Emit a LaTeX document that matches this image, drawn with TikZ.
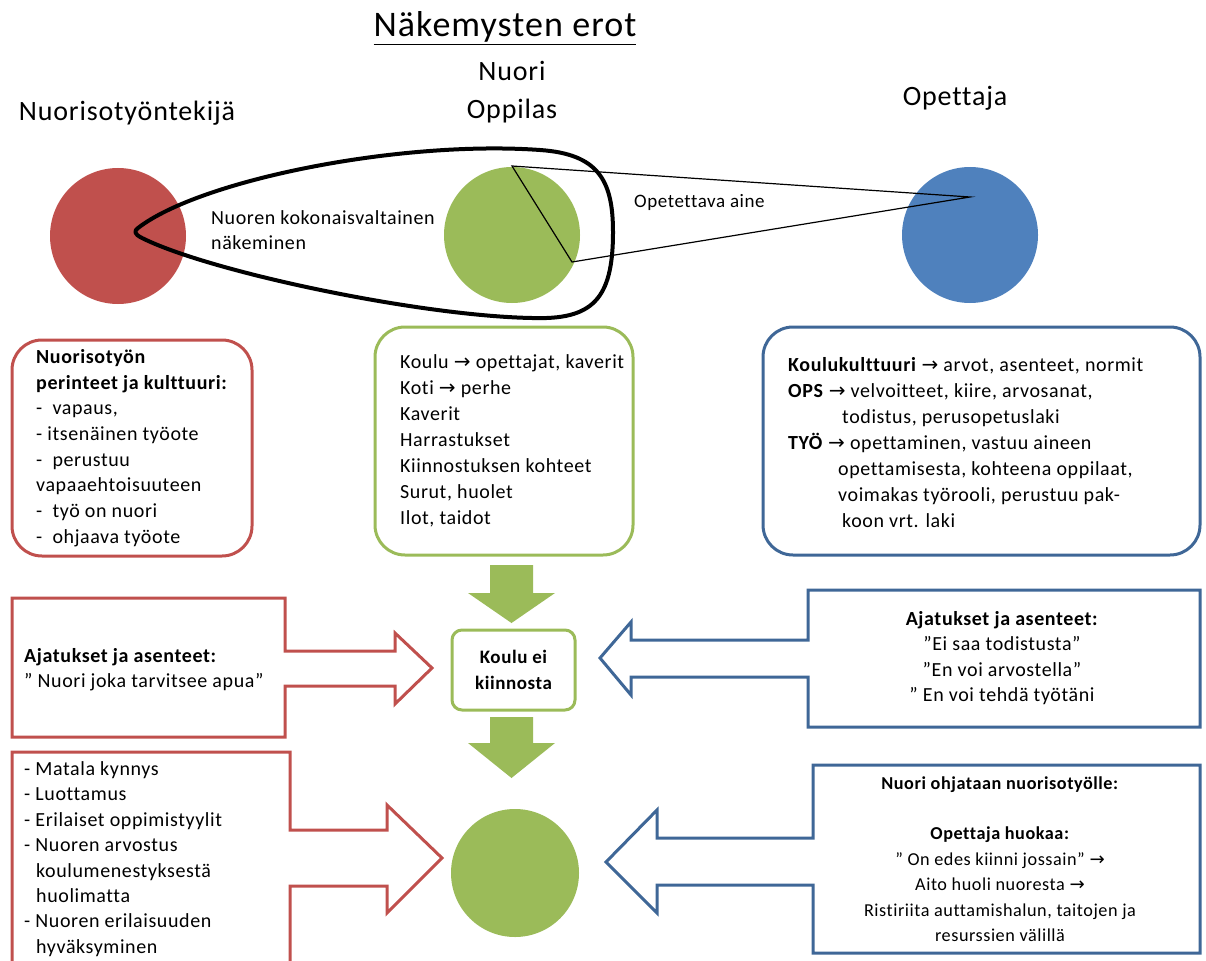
\documentclass[tikz,border=0pt]{standalone}
\usepackage{fontspec}
\setmainfont{Carlito}[LetterSpace=3,Ligatures=NoCommon]
\newfontfamily\arrowfont{DejaVu Sans}
\newcommand\toarr{{\arrowfont →}}
\usetikzlibrary{positioning}
\definecolor{wred}{HTML}{C0504D}
\definecolor{ygreen}{HTML}{9BBB59}
\definecolor{tblue}{HTML}{4F81BD}
\definecolor{tblueline}{HTML}{3F6797}

\begin{document}
\begin{tikzpicture}[x=1pt,y=-1pt,
  disc/.style={circle,minimum size=136pt,inner sep=0pt},
  frame/.style={draw,line width=3pt,rounded corners=30pt,inner sep=0pt},
  txt/.style={align=left,anchor=west,inner sep=0pt,font=\fontsize{20}{26}\selectfont},
  ctxt/.style={align=center,inner sep=0pt,font=\fontsize{20}{25.4}\selectfont},
  head/.style={font=\fontsize{28}{38}\selectfont,inner sep=0pt,align=center},
  callout/.style={draw,line width=3pt,fill=white,line join=miter}]
\useasboundingbox (0,0) rectangle (1206,960);

\node[font=\fontsize{36}{44}\selectfont,inner sep=0pt] (title) at (505,28) {\underline{Näkemysten erot}};

\node[disc,fill=wred] (worker) at (118,236) {};
\node[disc,fill=ygreen] (pupil) at (512,235) {};
\node[disc,fill=tblue] (teacher) at (970,235) {};
\node[head,above=42pt of worker,xshift=9pt] (workerlbl) {Nuorisotyöntekijä};
\node[head,above=44pt of pupil] (pupillbl) {Nuori\\Oppilas};
\node[head,above=56pt of teacher,xshift=-15pt] (teacherlbl) {Opettaja};

\draw[line width=4pt,line join=round]
  (138,228) .. controls (200,180) and (400,140) .. (540,150)
  .. controls (598,154) and (613,180) .. (613,232)
  .. controls (613,300) and (592,320) .. (532,318)
  .. controls (420,316) and (210,272) .. (142,238)
  .. controls (134,234) and (134,231) .. cycle;
\coordinate (ptop) at (512,166);
\coordinate (pbot) at (572,262);
\coordinate (tpt) at (970,197);
\draw[line width=1.2pt] (ptop) -- (pbot) -- (tpt) -- cycle;
\node[anchor=west,align=left,inner sep=0pt,font=\fontsize{20}{25}\selectfont] (wholeview) at (211,230)
  {Nuoren kokonaisvaltainen\\näkeminen};
\node[anchor=west,inner sep=0pt,font=\fontsize{19}{20}\selectfont] (subject) at (634,202) {Opetettava aine};

\node[frame,draw=wred,minimum width=240pt,minimum height=216pt] (tradbox) at (132,448) {};
\node[frame,draw=ygreen,minimum width=258pt,minimum height=228pt] (lifebox) at (504,441) {};
\node[frame,draw=tblueline,minimum width=437pt,minimum height=228pt] (schoolbox) at (981.5,441) {};
\node[txt,font=\fontsize{20}{25.7}\selectfont] (tradtxt) at (36,448) {\textbf{Nuorisotyön}\\\textbf{perinteet ja kulttuuri:}\\
  -\ \ vapaus,\\- itsenäinen työote\\-\ \ perustuu\\vapaaehtoisuuteen\\-\ \ työ on nuori\\-\ \ ohjaava työote};
\node[txt] (lifetxt) at (400,441) {Koulu \toarr{} opettajat, kaverit\\Koti \toarr{} perhe\\Kaverit\\Harrastukset\\
  Kiinnostuksen kohteet\\Surut, huolet\\Ilot, taidot};
\node[txt] (schooltxt) at (788,443) {\textbf{Koulukulttuuri} \toarr{} arvot, asenteet, normit\\
  \textbf{OPS} \toarr{} velvoitteet, kiire, arvosanat,\\\hspace*{54pt}todistus, perusopetuslaki\\
  \textbf{TYÖ} \toarr{} opettaminen, vastuu aineen\\\hspace*{50pt}opettamisesta, kohteena oppilaat,\\
  \hspace*{50pt}voimakas työrooli, perustuu pak-\\\hspace*{54pt}koon vrt. laki};

\foreach \ya/\yb/\yc in {565/593/623,717/743/778}
  \fill[ygreen] (490,\ya) -- (533,\ya) -- (533,\yb) -- (555,\yb) -- (511.5,\yc) -- (468,\yb) -- (490,\yb) -- cycle;
\node[draw=ygreen,line width=3pt,rounded corners=10pt,minimum width=123pt,minimum height=80pt,
  ctxt,font=\fontsize{19}{26}\selectfont\bfseries] (nointerest) at (513.5,670) {Koulu ei\\kiinnosta};
\node[disc,fill=ygreen,minimum size=128pt] (pupil2) at (515,873) {};

\draw[callout,draw=wred] (12,598) -- (285,598) -- (285,651) -- (395,651) -- (395,633) -- (432,668)
  -- (395,704) -- (395,686) -- (285,686) -- (285,737) -- (12,737) -- cycle;
\node[txt,font=\fontsize{20}{25}\selectfont] (helptxt) at (24,670) {\textbf{Ajatukset ja asenteet:}\\” Nuori joka tarvitsee apua”};
\draw[callout,draw=wred] (12,990) -- (12,752) -- (290,752) -- (290,830) -- (387,830) -- (387,805) -- (442,858)
  -- (387,913) -- (387,886) -- (290,886) -- (290,990);
\node[txt,font=\fontsize{20}{25.4}\selectfont] (meanstxt) at (24,859) {- Matala kynnys\\- Luottamus\\- Erilaiset oppimistyylit\\
  - Nuoren arvostus\\\hspace*{12pt}koulumenestyksestä\\\hspace*{12pt}huolimatta\\- Nuoren erilaisuuden\\\hspace*{12pt}hyväksyminen};

\draw[callout,draw=tblueline] (1200,590) -- (808,590) -- (808,640) -- (631,640) -- (631,622) -- (600,658)
  -- (631,695) -- (631,677) -- (808,677) -- (808,727) -- (1200,727) -- cycle;
\node[ctxt] (gradetxt) at (1002,658) {\textbf{Ajatukset ja asenteet:}\\”Ei saa todistusta”\\”En voi arvostella”\\” En voi tehdä työtäni};
\draw[callout,draw=tblueline] (1200,765) -- (813,765) -- (813,838) -- (657,838) -- (657,810) -- (606,862)
  -- (657,913) -- (657,885) -- (813,885) -- (813,953) -- (1200,953) -- cycle;
\node[ctxt,font=\fontsize{18.2}{25.4}\selectfont] (sighbtxt) at (1000,859) {\textbf{Nuori ohjataan nuorisotyölle:}\\~\\\textbf{Opettaja huokaa:}\\
  ” On edes kiinni jossain” \toarr\\Aito huoli nuoresta \toarr\\Ristiriita auttamishalun, taitojen ja\\resurssien välillä};
\end{tikzpicture}
\end{document}
